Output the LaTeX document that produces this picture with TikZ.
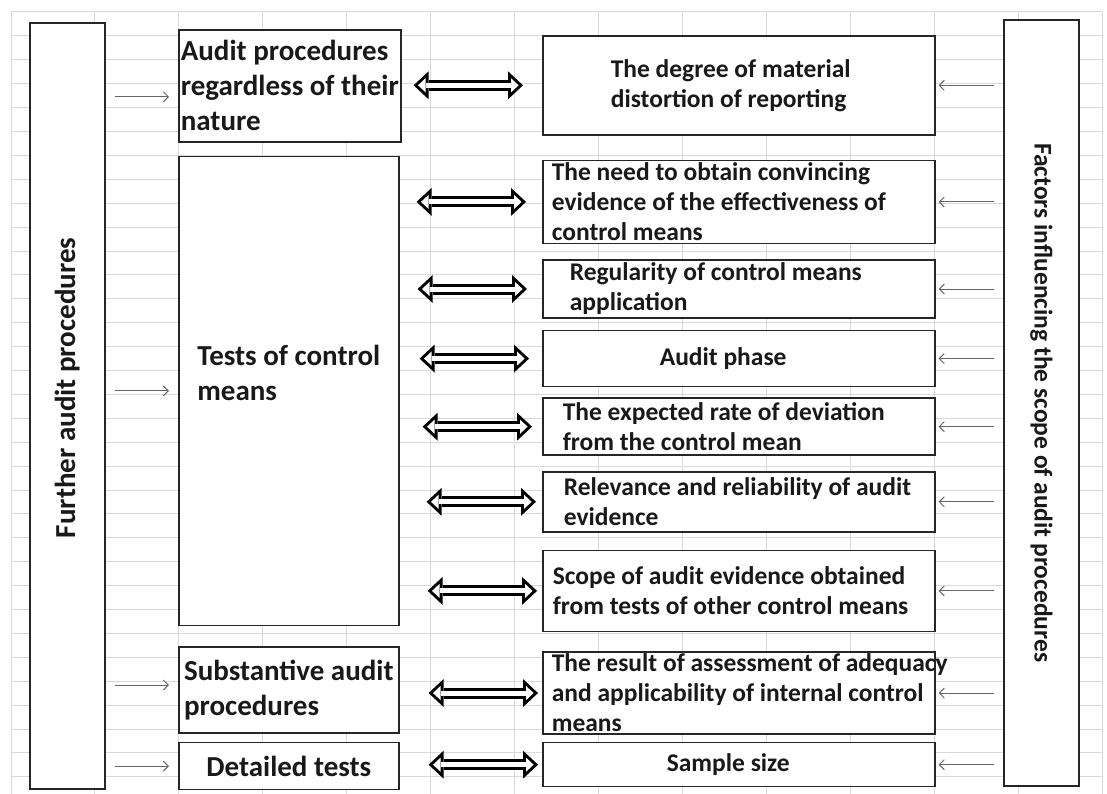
\documentclass[tikz,border=0pt]{standalone}
\usepackage{fontspec}
\setmainfont{Carlito}
\usetikzlibrary{arrows.meta,calc,positioning}

\newcommand\procfnt{\fontsize{29}{35}\selectfont\bfseries}
\newcommand\factfnt{\fontsize{25.5}{30}\selectfont\bfseries}

\begin{document}
\begin{tikzpicture}[x=1pt,y=-1pt]
\tikzstyle{veld} = [draw=black!85, line width=1.6pt, fill=white, text=black!90, align=flush left, inner sep=2pt, anchor=north west]
\tikzstyle{proc} = [veld, minimum width=220pt, font=\procfnt]
\tikzstyle{factor} = [veld, minimum width=392pt, font=\factfnt]
\tikzstyle{side} = [veld, minimum width=75pt, minimum height=766pt]
\tikzstyle{gridline} = [draw=black!15, line width=1pt]
\tikzstyle{feed} = [draw=black!60, line width=1pt, -{Straight Barb[length=5pt,width=10pt]}]
\tikzstyle{fatout} = [draw=black, line width=11pt, shorten <=19pt, shorten >=14pt, {Triangle[length=15pt,width=28pt,line width=0pt]}-{Triangle[length=15pt,width=28pt,line width=0pt]}]
\tikzstyle{fatin} = [draw=white, line width=5pt, shorten <=23.4pt, shorten >=18.4pt, {Triangle[length=7.6pt,width=14.2pt,line width=0pt]}-{Triangle[length=7.6pt,width=14.2pt,line width=0pt]}]

\useasboundingbox (0,0) rectangle (1107,794);

% spreadsheet grid
\foreach \k in {0,...,13} \draw[gridline] (11+83.95*\k,12) -- (11+83.95*\k,794);
\foreach \k in {0,...,32} \draw[gridline] (11,12+23.9*\k) -- (1102,12+23.9*\k);

\node [side] (further) at (29,22) {};
\node [rotate=90, font=\procfnt, text=black!90] (furtherlbl) at ($(further.center)+(0,-18)$) {Further audit procedures};

\node [side] (factors) at (1003,19) {};
\node [rotate=-90, font=\factfnt, text=black!90] (factorslbl) at (factors.center) {Factors influencing the scope of audit procedures};

\node [proc, minimum height=112pt] (procs) at (178,29) {Audit procedures\\regardless of their\\nature};
\node [proc, minimum height=469pt, text depth=37pt] (tests) [below=13pt of procs.south west, anchor=north west] {Tests of control\\means};
\node [proc, minimum height=86pt] (subst) [below=20pt of tests.south west, anchor=north west] {Substantive audit\\procedures};
\node [proc, minimum height=47pt] (detailed) [below=8pt of subst.south west, anchor=north west] {Detailed tests};

\node [factor, minimum height=99pt, text width=256pt] (degree) at (542,35) {The degree of material\\distortion of reporting};
\node [factor, minimum height=83pt, text width=374pt] (need) [below=24pt of degree.south west, anchor=north west] {The need to obtain convincing\\\mbox{evidence of the effectiveness of}\\control means};
\node [factor, minimum height=58pt, text width=338pt] (regular) [below=15pt of need.south west, anchor=north west] {Regularity of control means\\application};
\node [factor, minimum height=56pt, text width=158pt] (phase) [below=11pt of regular.south west, anchor=north west] {Audit phase};
\node [factor, minimum height=57pt, text width=352pt] (expected) [below=10pt of phase.south west, anchor=north west] {\mbox{The expected rate of deviation}\\from the control mean};
\node [factor, minimum height=60pt, text width=350pt] (relevance) [below=15pt of expected.south west, anchor=north west] {\mbox{Relevance and reliability of audit}\\evidence};
\node [factor, minimum height=81pt, text width=372pt] (scope) [below=17pt of relevance.south west, anchor=north west] {\mbox{Scope of audit evidence obtained}\\\mbox{from tests of other control means}};
\node [factor, minimum height=81pt, text width=374pt] (result) [below=19pt of scope.south west, anchor=north west] {\mbox{The result of assessment of adequacy}\\\mbox{and applicability of internal control}\\means};
\node [factor, minimum height=44pt, text width=144pt] (sample) [below=7pt of result.south west, anchor=north west] {Sample size};

\foreach \p/\d in {procs/11, tests/0, subst/-5, detailed/0}
  \draw[feed, shorten <=9pt, shorten >=9pt] ($(further.east |- \p.west)+(0,\d)$) -- ($(\p.west)+(0,\d)$);

\foreach \f in {degree,need,regular,phase,expected,relevance,scope,result,sample}
  \draw[feed, shorten <=9pt, shorten >=3pt] (factors.west |- \f.east) -- (\f.east);

\foreach \f/\d in {degree/-5, need/-2, regular/-1, phase/1, expected/4, relevance/8, scope/9, result/10, sample/10} {
  \draw[fatout] ($(tests.east |- \f.west)+(\d,0)$) -- ($(\f.west)+(\d,0)$);
  \draw[fatin] ($(tests.east |- \f.west)+(\d,0)$) -- ($(\f.west)+(\d,0)$);
}
\end{tikzpicture}
\end{document}
